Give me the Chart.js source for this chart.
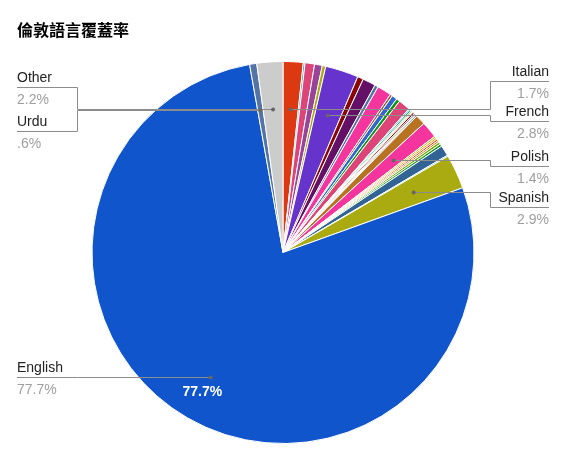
<!DOCTYPE html>
<html>
<head>
<meta charset="utf-8">
<script src="https://cdn.jsdelivr.net/npm/chart.js@4.4.1/dist/chart.umd.min.js"></script>
<style>
  html, body { margin: 0; padding: 0; background: #fff; }
  #wrap { width: 568px; height: 464px; position: relative; }
</style>
</head>
<body>
<div id="wrap"><canvas id="langChart"></canvas></div>
<script>
// data (percent of residents)
const chartTitle = "倫敦語言覆蓋率";

const languages = [
  "Italian", "Bengali", "Portuguese", "Turkish", "Arabic", "French",
  "Tamil", "Gujarati", "Somali", "Romanian", "Lithuanian", "Chinese",
  "Greek", "Punjabi", "German", "Tagalog", "Russian", "Persian",
  "Yoruba", "Japanese", "Korean", "Vietnamese", "Hindi", "Polish",
  "Albanian", "Bulgarian", "Hungarian", "Pashto", "Swahili", "Dutch",
  "Czech", "Thai", "Spanish", "English", "Urdu", "Other"
];

const shares = [
  1.7, 0.15, 0.8, 0.65, 0.3, 2.8,
  0.5, 1.1, 0.3, 1.2, 0.2, 0.45,
  0.3, 1.0, 0.1, 0.15, 0.1, 0.1,
  0.15, 0.1, 0.1, 0.1, 0.85, 1.4,
  0.15, 0.15, 0.15, 0.15, 0.2, 0.2,
  0.9, 0.1, 2.9, 77.7, 0.6, 2.2
];

const sliceColors = [
  "#dc3912", "#0099c6", "#dd4477", "#994499", "#aaaa11", "#6633cc",
  "#8b0707", "#651067", "#5574a6", "#f4359e", "#9c5935", "#3366cc",
  "#109618", "#dd4477", "#0099c6", "#22aa99", "#66aa00", "#d8d890",
  "#8b0707", "#651067", "#bea413", "#5574a6", "#b77322", "#f4359e",
  "#a9c413", "#ff9900", "#dc3912", "#e67300", "#66aa00", "#109618",
  "#316395", "#0099c6", "#aaaa11", "#1155cc", "#5574a6", "#cccccc"
];

// which slices get a callout, and where its text sits
const calloutNames = ["Other", "Urdu", "English", "Italian", "French", "Polish", "Spanish"];
const calloutSide  = ["left", "left", "left", "right", "right", "right", "right"];
const calloutLineY = [87.5, 131.5, null, 81.5, 121.5, 166.5, 207.5];
const insideLabel = "English";

function fmtPct(v) {
  let s = v.toFixed(1);
  if (s.startsWith("0")) s = s.slice(1);
  return s + "%";
}

const total = shares.reduce((a, b) => a + b, 0);
const FONT = "'Liberation Sans', Arial, sans-serif";

const calloutPlugin = {
  id: "callouts",
  afterDraw(chart) {
    const ctx = chart.ctx;
    const meta = chart.getDatasetMeta(0);

    ctx.save();
    // title
    ctx.fillStyle = "#000";
    ctx.font = "bold 16px " + FONT.replace("sans-serif", "'Noto Sans CJK TC', sans-serif");
    ctx.textBaseline = "alphabetic";
    ctx.textAlign = "left";
    ctx.fillText(chartTitle, 17, 36);

    calloutNames.forEach((name, k) => {
      const i = languages.indexOf(name);
      const arc = meta.data[i];
      const mid = (arc.startAngle + arc.endAngle) / 2;
      const r = arc.outerRadius * 0.755;
      const dx = arc.x + Math.cos(mid) * r;
      const dy = arc.y + Math.sin(mid) * r;
      const left = calloutSide[k] === "left";
      const lineY = calloutLineY[k] === null ? Math.round(dy) + 0.5 : calloutLineY[k];
      const textX = left ? 17 : 549;
      const elbowX = left ? 77.5 : 490.5;

      ctx.strokeStyle = "#8c8c8c";
      ctx.lineWidth = 1;
      ctx.beginPath();
      ctx.moveTo(textX, lineY);
      ctx.lineTo(elbowX, lineY);
      ctx.lineTo(elbowX, Math.round(dy) + 0.5);
      ctx.lineTo(dx, Math.round(dy) + 0.5);
      ctx.stroke();

      ctx.fillStyle = "#666";
      ctx.beginPath();
      ctx.arc(dx, Math.round(dy) + 0.5, 2, 0, Math.PI * 2);
      ctx.fill();

      ctx.textAlign = left ? "left" : "right";
      ctx.font = "14px " + FONT;
      ctx.fillStyle = "#222";
      ctx.fillText(name, textX, lineY - 6);
      ctx.fillStyle = "#9e9e9e";
      ctx.fillText(fmtPct(shares[i] / total * 100), textX, lineY + 16);
    });

    // value printed inside the big slice
    const j = languages.indexOf(insideLabel);
    const big = meta.data[j];
    const m = (big.startAngle + big.endAngle) / 2;
    const rr = big.outerRadius * 0.843;
    ctx.font = "bold 14px " + FONT;
    ctx.fillStyle = "#fff";
    ctx.textAlign = "center";
    ctx.textBaseline = "middle";
    ctx.fillText(fmtPct(shares[j] / total * 100), big.x + Math.cos(m) * rr, big.y + Math.sin(m) * rr);
    ctx.restore();
  }
};

new Chart(document.getElementById("langChart"), {
  type: "pie",
  data: {
    labels: languages,
    datasets: [{
      data: shares,
      backgroundColor: sliceColors,
      borderColor: "#ffffff",
      borderWidth: 1
    }]
  },
  options: {
    responsive: true,
    maintainAspectRatio: false,
    animation: false,
    layout: { padding: { top: 61, bottom: 20, left: 0, right: 2 } },
    plugins: {
      legend: { display: false },
      title: { display: false },
      tooltip: { enabled: false }
    },
    events: []
  },
  plugins: [calloutPlugin]
});
</script>
</body>
</html>
